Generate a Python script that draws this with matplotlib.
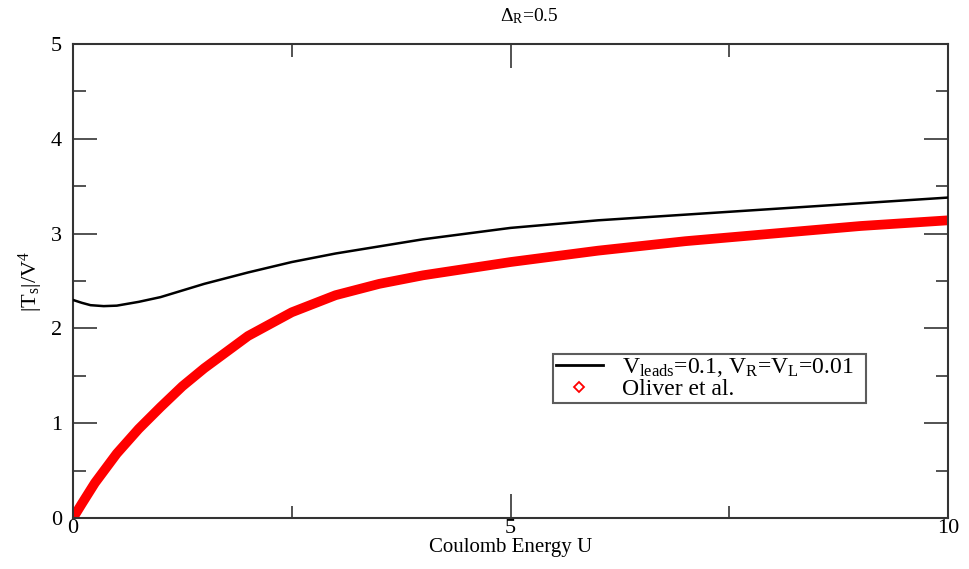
import matplotlib
matplotlib.use("Agg")
import matplotlib.pyplot as plt
from matplotlib.lines import Line2D
from matplotlib.ticker import MultipleLocator

plt.rcParams['font.family'] = ['Liberation Serif', 'DejaVu Serif']
plt.rcParams['mathtext.fontset'] = 'custom'
plt.rcParams['mathtext.rm'] = 'Liberation Serif'
plt.rcParams['mathtext.it'] = 'Liberation Serif'

# black curve: V_leads=0.1, V_R=V_L=0.01
u_black = [0.0, 0.1, 0.2, 0.35, 0.5, 0.75, 1.0, 1.5, 2.0, 2.5, 3.0, 4.0, 5.0, 6.0, 7.0, 7.5, 8.0, 9.0, 10.0]
t_black = [2.30, 2.27, 2.245, 2.235, 2.24, 2.28, 2.33, 2.47, 2.59, 2.70, 2.79, 2.94, 3.06, 3.14, 3.20, 3.23, 3.26, 3.32, 3.38]

# red curve: Oliver et al.
u_red = [0.0, 0.1, 0.25, 0.5, 0.75, 1.0, 1.25, 1.5, 2.0, 2.5, 3.0, 3.5, 4.0, 4.5, 5.0, 6.0, 7.0, 8.0, 9.0, 10.0]
t_red = [0.0, 0.15, 0.37, 0.68, 0.94, 1.17, 1.39, 1.58, 1.92, 2.17, 2.35, 2.47, 2.56, 2.63, 2.70, 2.82, 2.92, 3.00, 3.08, 3.14]

fig = plt.figure(figsize=(9.7, 5.69), dpi=100)
ax = fig.add_axes([0.0753, 0.0896, 0.9020, 0.8331])

ax.plot(u_red, t_red, color='red', lw=7, solid_capstyle='round', solid_joinstyle='round', zorder=2)
ax.plot(u_black, t_black, color='black', lw=1.8, zorder=3)

ax.set_xlim(0, 10)
ax.set_ylim(0, 5)
ax.xaxis.set_major_locator(MultipleLocator(5))
ax.xaxis.set_minor_locator(MultipleLocator(2.5))
ax.yaxis.set_major_locator(MultipleLocator(1))
ax.yaxis.set_minor_locator(MultipleLocator(0.5))
ax.tick_params(which='both', direction='in', top=True, right=True, labelsize=16, color='#444444')
ax.tick_params(axis='x', pad=1)
ax.tick_params(axis='y', pad=8)
ax.tick_params(which='major', length=17, width=1.3)
ax.tick_params(which='minor', length=9, width=1.3)
for s in ax.spines.values():
    s.set_linewidth(1.5)
    s.set_color('#333333')

ax.set_xlabel('Coulomb Energy U', fontsize=15, labelpad=0)
ax.set_ylabel(r'$\mathrm{|T_s|/V^4}$', fontsize=16, labelpad=4)
fig.text(529 / 970, 1 - 16 / 569, r'$\mathrm{\Delta_R}$=0.5', fontsize=14, ha='center', va='center')

handles = [Line2D([0], [0], color='black', lw=2),
           Line2D([0], [0], color='red', lw=0, marker='D', markersize=5, markerfacecolor='white',
                  markeredgecolor='red', markeredgewidth=1.3)]
labels = [r'$\mathrm{V_{leads}}$=0.1, $\mathrm{V_R}$=$\mathrm{V_L}$=0.01', 'Oliver et al.']
leg = ax.legend(handles, labels, loc='lower left', bbox_to_anchor=(0.549, 0.243, 0.357, 0.118), mode='expand',
                fontsize=17, frameon=True, fancybox=False, edgecolor='#333333', borderpad=0.1,
                handlelength=2.0, handletextpad=0.8, labelspacing=0.0, borderaxespad=0)
leg.get_frame().set_linewidth(1.5)

fig.savefig('out.png', dpi=100)
